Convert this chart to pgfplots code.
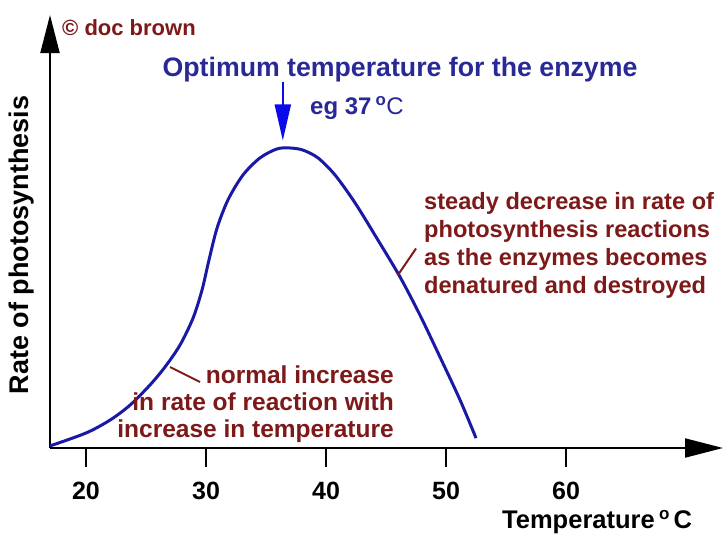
\documentclass[border=0pt]{standalone}
\usepackage{fontspec}
\setmainfont{Liberation Sans}
\usepackage{pgfplots}
\pgfplotsset{compat=1.18}
\usetikzlibrary{arrows.meta}
\definecolor{curveblue}{RGB}{25,25,165}
\definecolor{titleblue}{RGB}{40,40,150}
\definecolor{arrowblue}{RGB}{10,10,235}
\definecolor{darkred}{RGB}{125,25,25}
\begin{document}
\begin{tikzpicture}
\begin{axis}[
  at={(0,0)}, anchor=south west,
  scale only axis, width=673pt, height=433pt,
  xmin=17, xmax=73.08, ymin=0, ymax=144.33,
  axis lines=left,
  axis line style={line width=2pt, -{Triangle[length=38pt,width=19pt]}},
  xtick={20,30,40,50,60},
  ytick=\empty,
  tick align=outside,
  major tick length=19pt,
  tick style={line width=2pt, black},
  xticklabel style={font=\bfseries\fontsize{25}{25}\selectfont, yshift=-12pt},
  /pgf/number format/assume math mode=true,
  clip=false,
]
\addplot[curveblue, line width=3pt, smooth] coordinates {
(17,0.7) (20,5) (22,9.3) (23.67,14.3) (25.33,21) (26.58,27) (27.83,34.3)
(28.92,43.3) (29.67,52.7) (30.25,62.7) (30.92,73.3) (31.83,82.7) (33.08,91)
(34.5,96.7) (35.92,99.7) (37,100) (38.08,99.3) (39.33,96.7) (40.75,91)
(42.42,81.7) (44.33,69.3) (46.17,57) (47.83,44.3) (49.5,30.3) (51.17,16) (52.5,3.3)
};
\draw[arrowblue, line width=2pt, -{Triangle[length=36pt,width=16pt]}]
  (axis cs:36.4,122) -- (axis cs:36.4,102.5);
\draw[darkred, line width=2pt] (axis cs:27.0,27.0) -- (axis cs:29.5,22.0);
\draw[darkred, line width=2pt] (axis cs:46.0,57.7) -- (axis cs:47.5,66.5);
\end{axis}
\node[font=\bfseries\fontsize{26.7}{28}\selectfont, text=titleblue, inner sep=0pt] at (350pt,378pt) {Optimum temperature for the enzyme};
\node[anchor=west, text=titleblue, inner sep=0pt, font=\fontsize{24}{26}\selectfont] at (260pt,340pt) {\textbf{eg 37\,\textsuperscript{o}}C};
\node[anchor=west, text=darkred, inner sep=0pt, font=\bfseries\fontsize{22}{24}\selectfont] at (12pt,420pt) {\textcopyright\ doc brown};
\node[anchor=east, align=right, text=darkred, inner sep=0pt, font=\bfseries\fontsize{24.5}{27}\selectfont] at (344pt,44pt) {normal increase\\in rate of reaction with\\increase in temperature};
\node[anchor=west, align=left, text=darkred, inner sep=0pt, font=\bfseries\fontsize{23.6}{28}\selectfont] at (374pt,203pt) {steady decrease in rate of\\photosynthesis reactions\\as the enzymes becomes\\denatured and destroyed};
\node[rotate=90, inner sep=0pt, font=\bfseries\fontsize{27}{28}\selectfont] at (-28pt,203pt) {Rate of photosynthesis};
\node[anchor=base west, inner sep=0pt, font=\bfseries\fontsize{25.5}{28}\selectfont] at (452pt,-80pt) {Temperature\,\raisebox{9pt}{\fontsize{17}{17}\selectfont o}\,C};
\pgfresetboundingbox
\useasboundingbox (-50pt,-94pt) rectangle (673pt,448pt);
\end{tikzpicture}
\end{document}
